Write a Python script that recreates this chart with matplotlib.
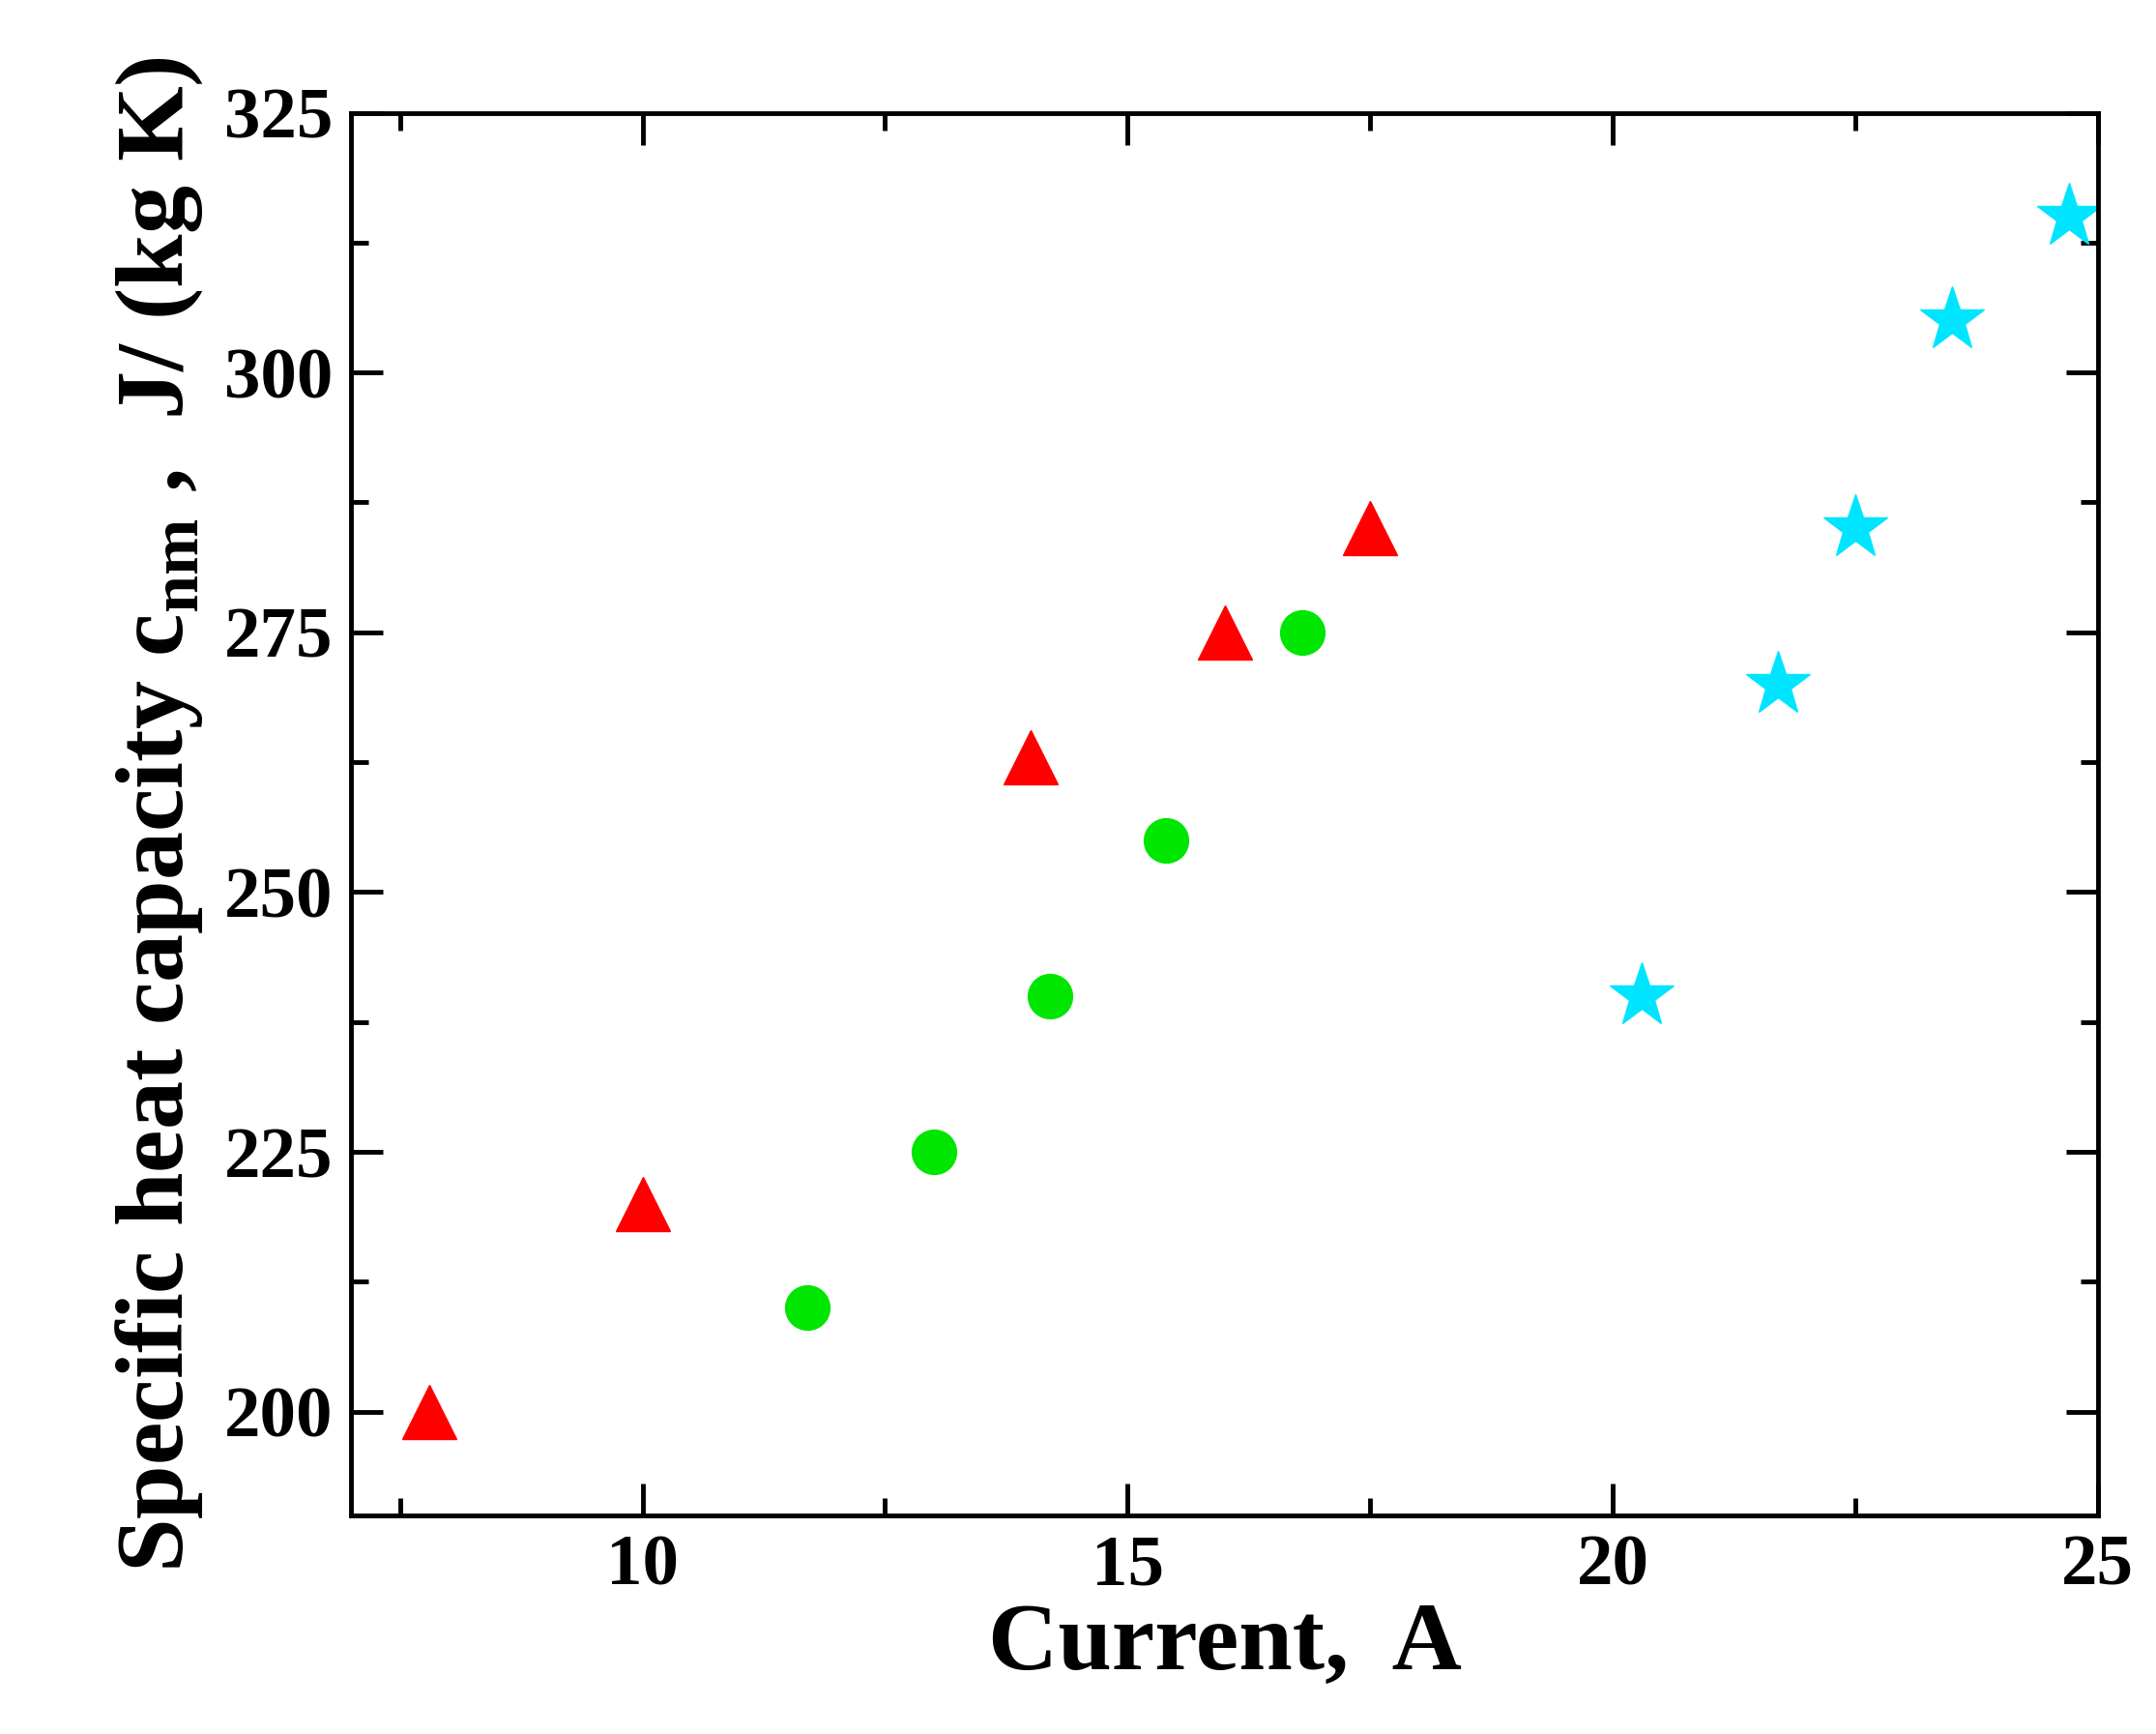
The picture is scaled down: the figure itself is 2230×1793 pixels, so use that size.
import matplotlib
matplotlib.use("Agg")
import matplotlib.pyplot as plt
from matplotlib.ticker import MultipleLocator

# red triangles
tri_x = [7.8, 10.0, 14.0, 16.0, 17.5]
tri_y = [200, 220, 263, 275, 285]
# green circles
circ_x = [11.7, 13.0, 14.2, 15.4, 16.8]
circ_y = [210, 225, 240, 255, 275]
# cyan stars
star_x = [20.3, 21.7, 22.5, 23.5, 24.7]
star_y = [240, 270, 285, 305, 315]

plt.rcParams["font.family"] = ["Liberation Serif", "DejaVu Serif"]
plt.rcParams["font.weight"] = "bold"
plt.rcParams["mathtext.fontset"] = "custom"
plt.rcParams["mathtext.rm"] = "Liberation Serif:bold"

fig = plt.figure(figsize=(22.3, 17.93), dpi=100)
ax = fig.add_axes([0.163, 0.126, 0.81, 0.809])

ax.plot(tri_x, tri_y, ls="none", marker="^", ms=40, color="#ff0000", mec="#ff0000")
ax.plot(circ_x, circ_y, ls="none", marker="o", ms=33, color="#00e600", mec="#00e600")
ax.plot(star_x, star_y, ls="none", marker="*", ms=50, color="#00e5ff", mec="#00e5ff")

ax.set_xlim(7, 25)
ax.set_ylim(190, 325)
ax.xaxis.set_major_locator(MultipleLocator(5))
ax.xaxis.set_minor_locator(MultipleLocator(2.5))
ax.yaxis.set_major_locator(MultipleLocator(25))
ax.yaxis.set_minor_locator(MultipleLocator(12.5))
ax.tick_params(which="both", direction="in", top=True, right=True, width=3.5)
ax.tick_params(which="major", length=24, labelsize=54, pad=14)
ax.tick_params(which="minor", length=13)
for s in ax.spines.values():
    s.set_linewidth(3.5)

ax.set_xlabel("Current,  A", fontsize=72, fontweight="bold", labelpad=2)
ax.set_ylabel(r"Specific heat capacity c$_{\rm nm}$ ,  J/ (kg K)", fontsize=72,
              fontweight="bold", labelpad=14)

fig.savefig("out.png", dpi=100)
